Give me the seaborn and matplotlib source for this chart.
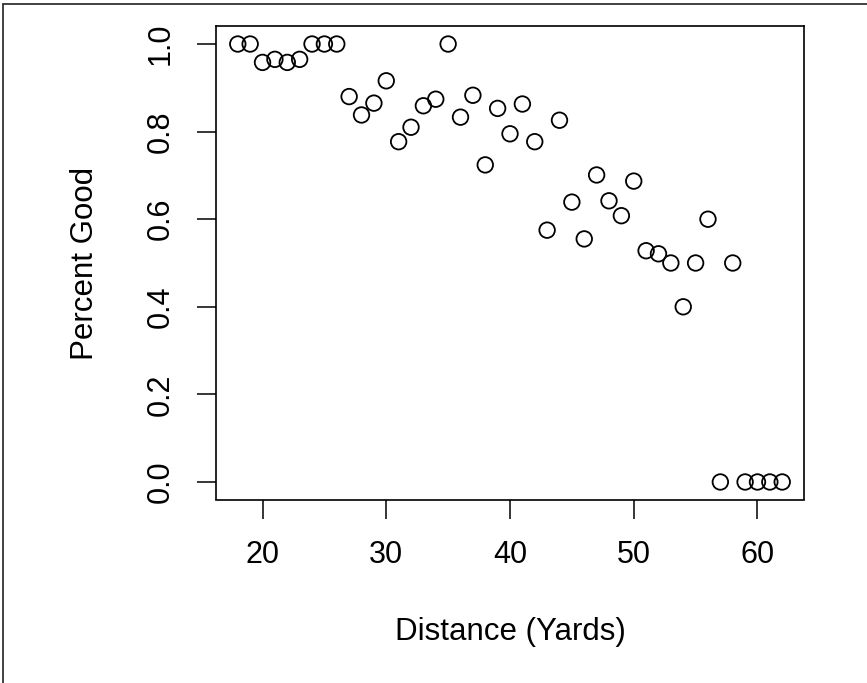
# Field goal success rate by kick distance
import numpy as np
import pandas as pd
import matplotlib
matplotlib.use("Agg")
import matplotlib.pyplot as plt
from matplotlib.lines import Line2D
import seaborn as sns

# ------------------------------------------
# Data
# ------------------------------------------
distance = [18, 19, 20, 21, 22, 23, 24, 25, 26, 27, 28, 29, 30, 31, 32,
            33, 34, 35, 36, 37, 38, 39, 40, 41, 42, 43, 44, 45, 46, 47,
            48, 49, 50, 51, 52, 53, 54, 55, 56, 57, 58, 59, 60, 61, 62]
percent_good = [1.0, 1.0, 0.958, 0.965, 0.958, 0.965, 1.0, 1.0, 1.0, 0.880,
                0.838, 0.865, 0.916, 0.777, 0.810, 0.859, 0.874, 1.0, 0.833,
                0.883, 0.724, 0.853, 0.795, 0.863, 0.777, 0.575, 0.826, 0.639,
                0.555, 0.701, 0.642, 0.608, 0.687, 0.528, 0.521, 0.5, 0.4,
                0.5, 0.6, 0.0, 0.5, 0.0, 0.0, 0.0, 0.0]
x_ticks = [20, 30, 40, 50, 60]
y_ticks = [0.0, 0.2, 0.4, 0.6, 0.8, 1.0]

df = pd.DataFrame({"Distance": distance, "PercentGood": percent_good})

# ------------------------------------------
# Style
# ------------------------------------------
sns.set_theme(style="white")
plt.rcParams["font.family"] = ["Liberation Sans", "DejaVu Sans"]

fig = plt.figure(figsize=(8.67, 6.83), dpi=100)
ax = fig.add_axes([216 / 867, 1 - 499.5 / 683, 588 / 867, 473 / 683])

sns.scatterplot(data=df, x="Distance", y="PercentGood", ax=ax,
                marker="o", s=125, facecolors="none", edgecolor="black",
                linewidth=1.3)

# R-style 4% padding around the data range
xmin, xmax = min(distance), max(distance)
ymin, ymax = min(percent_good), max(percent_good)
xpad = (xmax - xmin) * 0.04
ypad = (ymax - ymin) * 0.04
ax.set_xlim(xmin - xpad, xmax + xpad)
ax.set_ylim(ymin - ypad, ymax + ypad)

ax.set_xticks(x_ticks)
ax.set_xticklabels([str(t) for t in x_ticks])
ax.set_yticks(y_ticks)
ax.set_yticklabels([f"{t:.1f}" for t in y_ticks], rotation=90, va="center")

ax.tick_params(axis="both", direction="out", length=14, width=1.1,
               color="black", labelsize=22, pad=15, labelcolor="black")
ax.tick_params(bottom=True, left=True, top=False, right=False)

for sp in ax.spines.values():
    sp.set_visible(True)
    sp.set_color("black")
    sp.set_linewidth(1.2)

ax.set_xlabel("Distance (Yards)", fontsize=22.5, color="black")
ax.set_ylabel("Percent Good", fontsize=22.5, color="black")
ax.xaxis.set_label_coords(0.5, -0.249)
ax.yaxis.set_label_coords(-0.197, 0.5)

# thin frame on the left and top edges of the picture
fig.add_artist(Line2D([3.5 / 867, 3.5 / 867], [0, 1 - 3.5 / 683],
                      transform=fig.transFigure, color="#333333", lw=1.3))
fig.add_artist(Line2D([3.5 / 867, 1], [1 - 3.5 / 683, 1 - 3.5 / 683],
                      transform=fig.transFigure, color="#333333", lw=1.3))

fig.savefig("out.png", dpi=100)
